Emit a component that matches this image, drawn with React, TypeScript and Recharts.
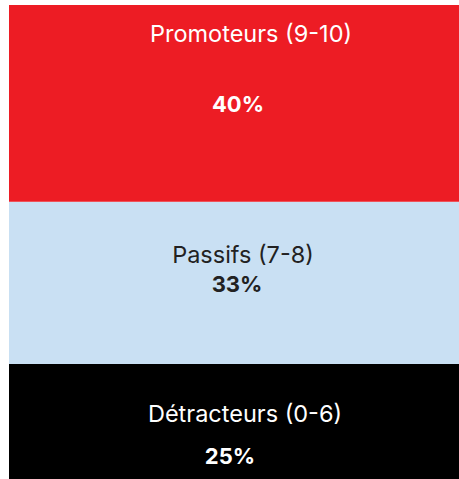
import React from 'react';
import { BarChart, Bar, XAxis, YAxis } from 'recharts';

const segmentNames = ['Détracteurs (0-6)', 'Passifs (7-8)', 'Promoteurs (9-10)'];
const segmentKeys = ['detracteurs', 'passifs', 'promoteurs'];
const segmentValues = [25, 33, 40];

const chartData = [
  segmentKeys.reduce((row, key, i) => ({ ...row, [key]: segmentValues[i] }), { name: 'NPS' } as Record<string, string | number>)
];

const total = segmentValues.reduce((s, v) => s + v, 0);

// couleurs et placement des libellés, par segment
const segmentStyle: Record<string, { fill: string; text: string; nameDy: number; valueDy: number; nameDx: number; valueDx: number }> = {
  detracteurs: { fill: '#000000', text: '#ffffff', nameDy: 49, valueDy: 92, nameDx: 11, valueDx: -4 },
  passifs: { fill: '#c9e0f3', text: '#222222', nameDy: 53, valueDy: 82, nameDx: 9, valueDx: 3 },
  promoteurs: { fill: '#ed1c24', text: '#ffffff', nameDy: 28, valueDy: 99, nameDx: 17, valueDx: 4 }
};

const SegmentLabel = (props: any, i: number) => {
  const { x, y, width } = props;
  const key = segmentKeys[i];
  const st = segmentStyle[key];
  const cx = x + width / 2;
  return (
    <g>
      <text x={cx + st.nameDx} y={y + st.nameDy} textAnchor="middle" dominantBaseline="central"
        fill={st.text} fontSize={23.5} fontFamily="Inter, sans-serif">
        {segmentNames[i]}
      </text>
      <text x={cx + st.valueDx} y={y + st.valueDy} textAnchor="middle" dominantBaseline="central"
        fill={st.text} fontSize={22} fontWeight="bold" fontFamily="Inter, sans-serif">
        {segmentValues[i]}%
      </text>
    </g>
  );
};

export default function App() {
  return (
    <div style={{ position: 'absolute', left: 0, top: 0, width: 459, height: 479, overflow: 'hidden', background: '#fff' }}>
      <BarChart
        width={459}
        height={487}
        data={chartData}
        margin={{ top: 5, right: 0, left: 9, bottom: 0 }}
        barCategoryGap={0}
      >
        <XAxis dataKey="name" hide />
        <YAxis hide domain={[0, total]} />
        {segmentKeys.map((key, i) => (
          <Bar
            key={key}
            dataKey={key}
            stackId="nps"
            fill={segmentStyle[key].fill}
            isAnimationActive={false}
            label={(p: any) => SegmentLabel(p, i)}
          />
        ))}
      </BarChart>
    </div>
  );
}
